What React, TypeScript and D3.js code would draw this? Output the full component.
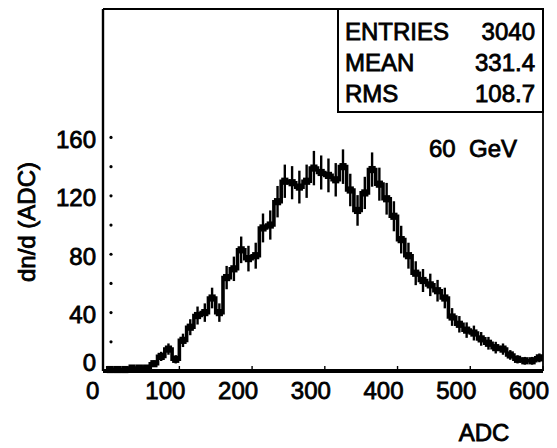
import React from "react";
import * as d3 from "d3";

// Pulse-height spectrum, 60 GeV beam, 10-ADC bins starting at 0
const binWidth = 10;
const counts = [
  1, 1, 1, 2, 2, 2, 5, 10, 15, 8,
  21, 30, 38, 40, 50, 40, 64, 70, 83, 77,
  79, 98, 100, 116, 130, 129, 126, 130, 139, 136,
  134, 131, 140, 124, 110, 122, 138, 128, 118, 106,
  90, 79, 67, 62, 59, 55, 50, 37, 32, 28,
  26, 22, 19, 16, 15, 11, 8, 7, 7, 9,
];
const binEdges = d3.range(0, counts.length * binWidth, binWidth);

const xTicks = [0, 100, 200, 300, 400, 500, 600];
const yTicks = [0, 40, 80, 120, 160];
const yDots = [20, 40, 60, 80, 100, 120, 140, 160];

const statNames = ["ENTRIES", "MEAN", "RMS"];
const statValues = ["3040", "331.4", "108.7"];

const W = 557;
const H = 448;
const frame = { left: 103, right: 543, top: 9, bottom: 371 };
const FONT = "'Liberation Sans', Arial, Helvetica, sans-serif";

export default function App() {
  const x = d3.scaleLinear().domain([-5, 600]).range([frame.left, frame.right]);
  const y = d3.scaleLinear().domain([0, 248]).range([frame.bottom, frame.top]);

  const stepPts: [number, number][] = binEdges.map((e, i) => [e, counts[i]]);
  stepPts.push([binEdges[binEdges.length - 1] + binWidth, counts[counts.length - 1]]);
  const step = d3
    .line<[number, number]>()
    .x((d) => x(d[0]))
    .y((d) => y(d[1]))
    .curve(d3.curveStepAfter)(stepPts);

  const textStyle = { fontFamily: FONT, fill: "#000", stroke: "#000", strokeWidth: 0.8 };

  return (
    <svg
      width={W}
      height={H}
      viewBox={`0 0 ${W} ${H}`}
      style={{ position: "absolute", left: 0, top: 0, background: "#fff" }}
    >
      {/* frame */}
      <g fill="none" stroke="#000">
        <line x1={frame.left} x2={frame.left} y1={frame.top} y2={frame.bottom} strokeWidth={2.4} />
        <line x1={frame.left} x2={frame.right} y1={frame.top} y2={frame.top} strokeWidth={2.2} />
        <line x1={frame.right} x2={frame.right} y1={frame.top} y2={frame.bottom} strokeWidth={1.8} />
        <line x1={frame.left} x2={frame.right} y1={frame.bottom} y2={frame.bottom} strokeWidth={4} />
      </g>

      {/* y tick dots */}
      {yDots.map((v) => (
        <circle key={v} cx={frame.left + 8} cy={y(v)} r={1.6} fill="#000" />
      ))}

      {/* x ticks */}
      {xTicks.map((v) => (
        <line key={v} x1={x(v)} x2={x(v)} y1={frame.bottom} y2={frame.bottom - 5} stroke="#000" strokeWidth={1.4} />
      ))}

      {/* histogram step line */}
      <path d={step ?? ""} fill="none" stroke="#000" strokeWidth={3.6} strokeLinejoin="miter" />

      {/* data points with statistical error bars */}
      {counts.map((c, i) => {
        const cx = x(binEdges[i] + binWidth / 2);
        const err = Math.sqrt(c);
        return (
          <g key={i}>
            <line x1={cx} x2={cx} y1={y(c + err)} y2={y(Math.max(0, c - err))} stroke="#000" strokeWidth={2.4} />
            <rect x={cx - 3.6} y={y(c) - 3.6} width={7.2} height={7.2} fill="#000" />
          </g>
        );
      })}

      {/* y tick labels */}
      {yTicks.map((v) => (
        <text
          key={v}
          x={96}
          y={Math.min(y(v) + 2, frame.bottom - 9)}
          textAnchor="end"
          dominantBaseline="central"
          fontSize={24}
          style={textStyle}
        >
          {v}
        </text>
      ))}

      {/* x tick labels */}
      {xTicks.map((v) => (
        <text key={v} x={x(v) - 14} y={399} textAnchor="middle" fontSize={24} style={textStyle}>
          {v}
        </text>
      ))}

      {/* axis titles */}
      <text x={484} y={441} textAnchor="middle" fontSize={24} style={textStyle}>
        ADC
      </text>
      <text
        transform={`translate(35, 222) rotate(-90)`}
        textAnchor="middle"
        fontSize={24}
        style={textStyle}
      >
        dn/d (ADC)
      </text>

      {/* statistics box */}
      <rect x={338} y={frame.top} width={frame.right - 338} height={112 - frame.top} fill="#fff" stroke="#000" strokeWidth={2} />
      {statNames.map((n, i) => (
        <g key={n}>
          <text x={345} y={40 + i * 31} fontSize={24} style={textStyle}>
            {n}
          </text>
          <text x={535} y={40 + i * 31} textAnchor="end" fontSize={24} style={textStyle}>
            {statValues[i]}
          </text>
        </g>
      ))}

      <text x={429} y={157} fontSize={24} style={textStyle} xmlSpace="preserve">
        60  GeV
      </text>
    </svg>
  );
}
